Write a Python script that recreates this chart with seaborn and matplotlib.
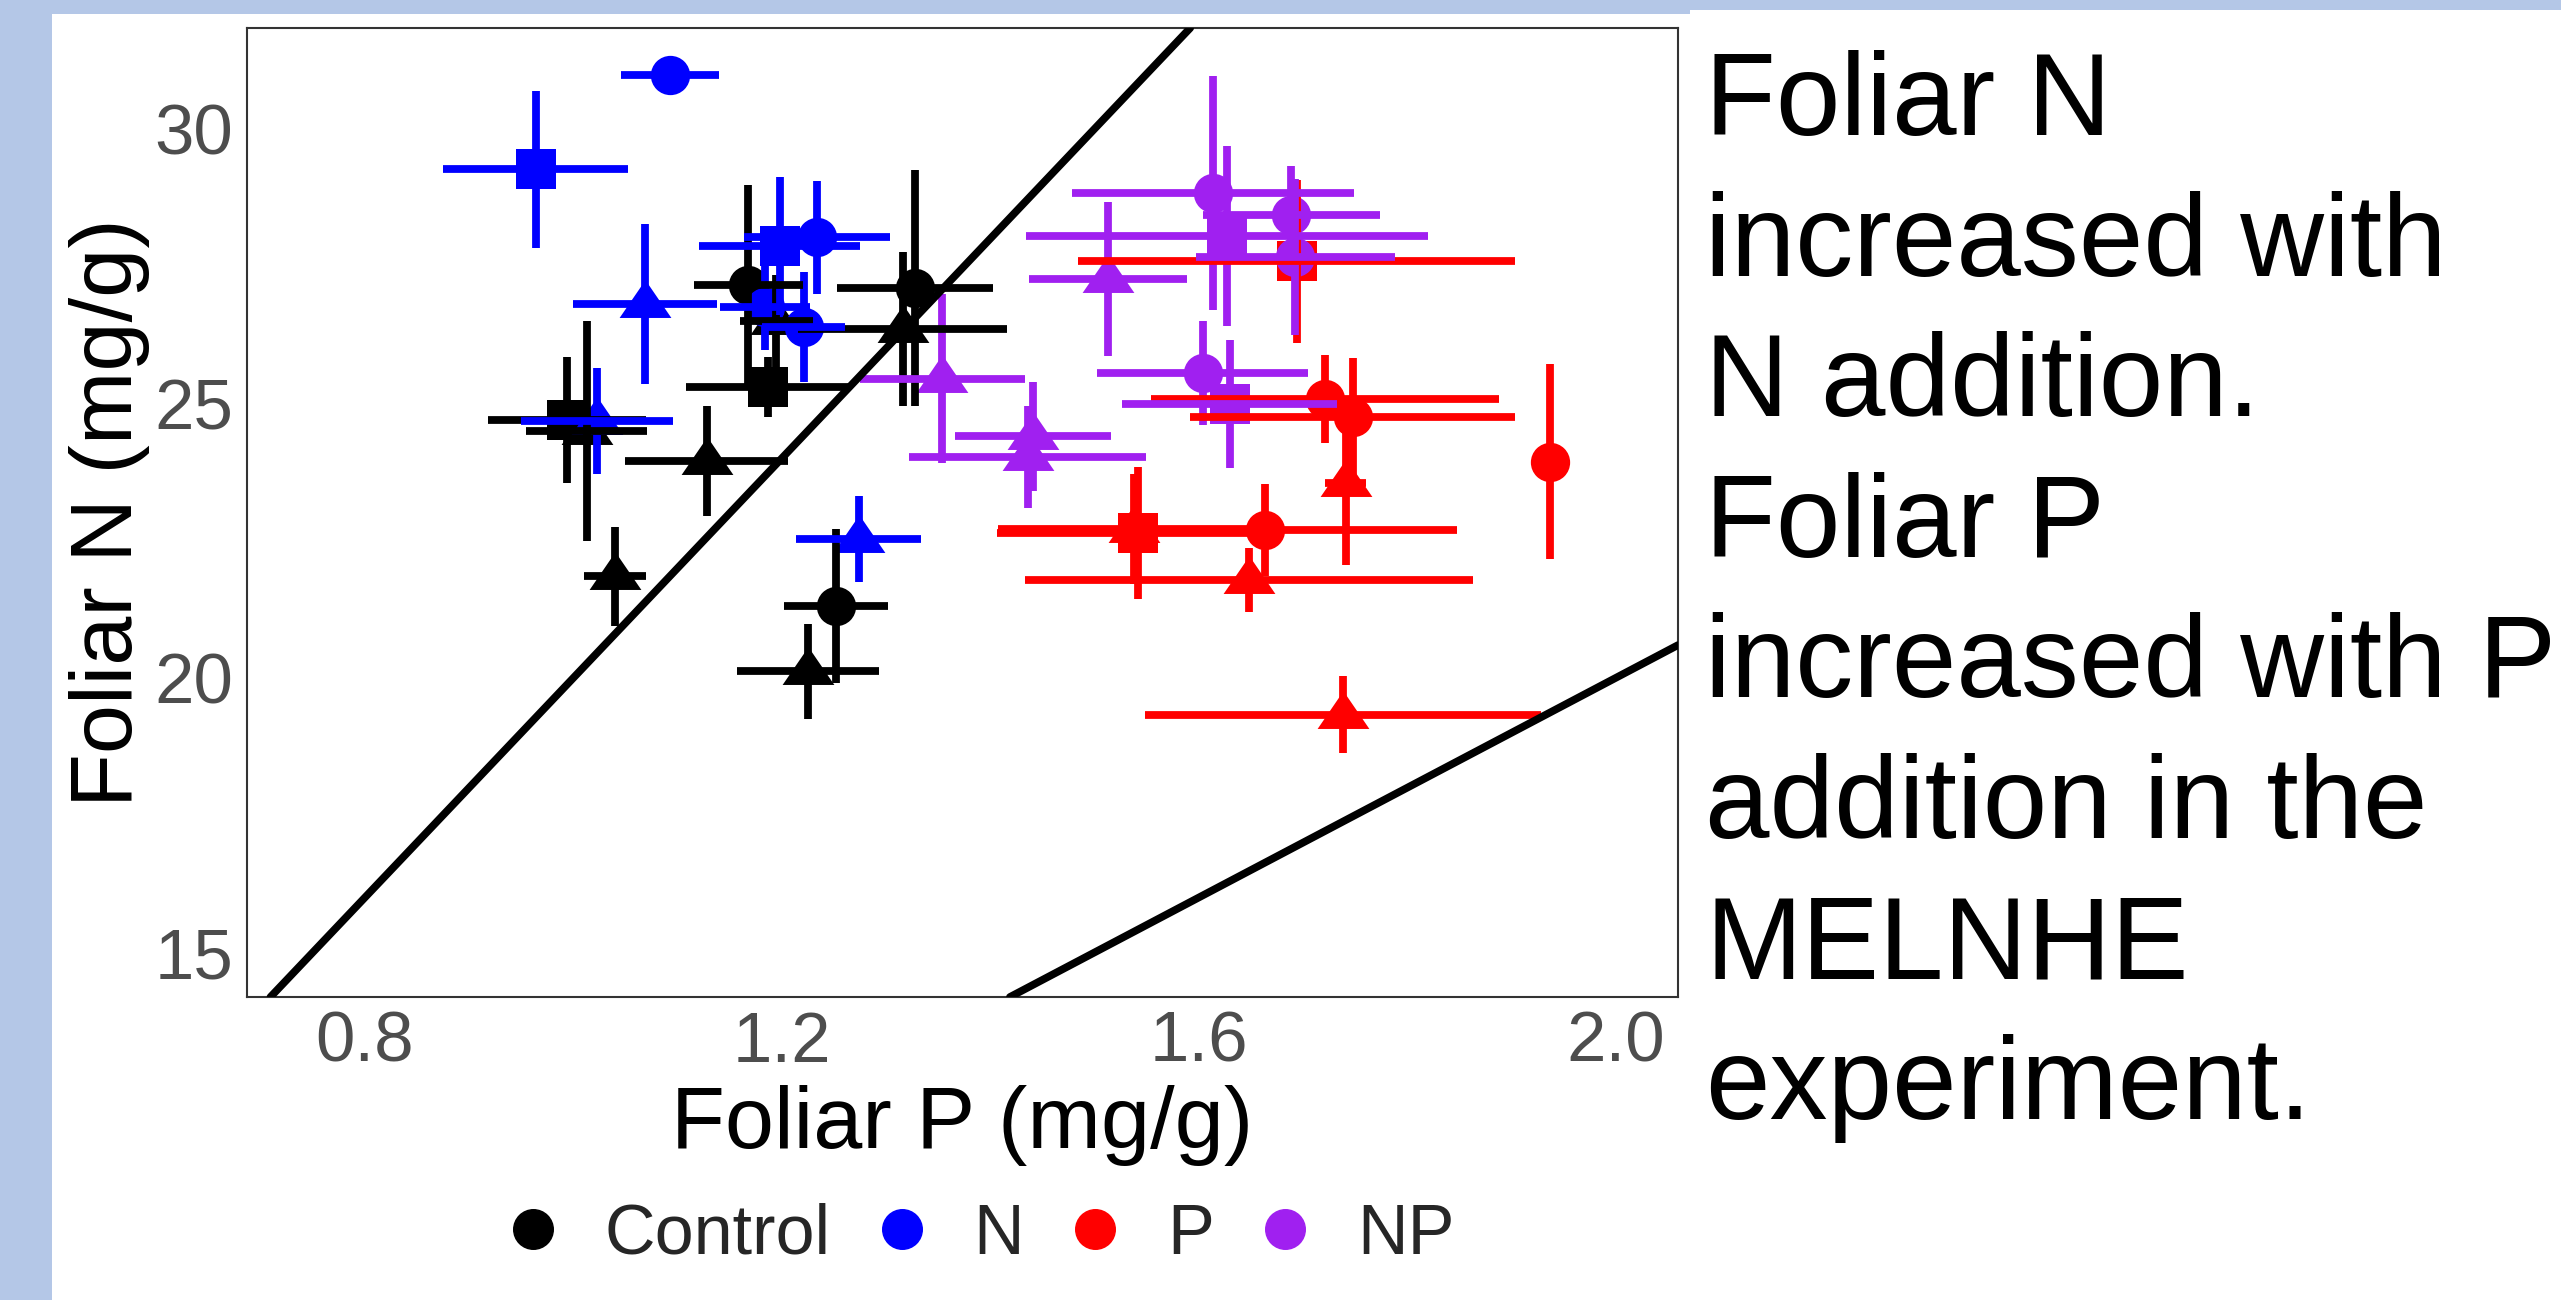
import matplotlib
matplotlib.use('Agg')
import matplotlib.pyplot as plt
from matplotlib.lines import Line2D
from matplotlib.path import Path
from matplotlib.patches import Rectangle
import seaborn as sns
import pandas as pd

sns.set_style('white')
plt.rcParams['font.family'] = ['Liberation Sans', 'DejaVu Sans']

treatments = ['Control', 'N', 'P', 'NP']
colors = {'Control': '#000000', 'N': '#0000FF', 'P': '#FF0000', 'NP': '#A020F0'}

# one row per stand: treatment, marker shape, foliar P / N means and their errors
trt = ['Control'] * 11 + ['N'] * 9 + ['P'] * 10 + ['NP'] * 10
shape = [
    # Control
    'circle', 'circle', 'circle', 'square', 'square',
    'triangle', 'triangle', 'triangle', 'triangle', 'triangle', 'triangle',
    # N
    'circle', 'square', 'triangle', 'square', 'circle', 'circle', 'circle', 'triangle', 'triangle',
    # P
    'square', 'circle', 'circle', 'circle', 'triangle', 'square', 'triangle', 'circle', 'triangle', 'triangle',
    # NP
    'circle', 'circle', 'circle', 'circle', 'square', 'square', 'triangle', 'triangle', 'triangle', 'triangle',
]
foliar_p = [
    1.168, 1.328, 1.252, 0.994, 1.187, 1.316, 1.013, 1.128, 1.040, 1.225, 1.195,
    1.093, 0.964, 1.069, 1.198, 1.234, 1.184, 1.221, 1.023, 1.274,
    1.694, 1.721, 1.748, 1.937, 1.741, 1.542, 1.538, 1.664, 1.648, 1.739,
    1.614, 1.689, 1.693, 1.604, 1.627, 1.630, 1.513, 1.354, 1.441, 1.436,
]
foliar_n = [
    27.16, 27.10, 21.31, 24.70, 25.30, 26.36, 24.50, 23.95, 21.85, 20.12, 26.50,
    30.98, 29.27, 26.81, 27.87, 28.03, 26.75, 26.39, 24.68, 22.53,
    27.59, 25.08, 24.76, 23.94, 23.55, 22.64, 22.72, 22.70, 21.79, 19.33,
    28.84, 28.43, 27.67, 25.56, 28.05, 24.99, 27.27, 25.45, 24.40, 24.02,
]
p_err = [
    0.052, 0.075, 0.050, 0.076, 0.079, 0.100, 0.058, 0.078, 0.030, 0.068, 0.035,
    0.047, 0.089, 0.069, 0.077, 0.070, 0.043, 0.040, 0.073, 0.060,
    0.210, 0.167, 0.156, 0.015, 0.020, 0.135, 0.130, 0.184, 0.215, 0.190,
    0.135, 0.085, 0.095, 0.101, 0.193, 0.103, 0.076, 0.079, 0.075, 0.114,
]
n_err = [
    1.82, 2.15, 1.40, 1.15, 0.54, 1.40, 2.00, 1.00, 0.90, 0.86, 0.85,
    0.10, 1.43, 1.46, 1.25, 1.03, 0.78, 1.00, 0.97, 0.78,
    1.48, 0.80, 1.07, 1.78, 1.50, 1.20, 1.00, 0.84, 0.58, 0.70,
    2.13, 0.90, 1.42, 0.95, 1.64, 1.16, 1.40, 1.54, 1.00, 0.93,
]

# N:P reference lines
np_ratios = [20, 10]

df = pd.DataFrame({'trt': trt, 'shape': shape, 'P': foliar_p, 'N': foliar_n,
                   'P_err': p_err, 'N_err': n_err})

tri = Path([(0, 0.94), (1, -0.52), (-1, -0.52), (0, 0.94)],
           [Path.MOVETO, Path.LINETO, Path.LINETO, Path.CLOSEPOLY])
markers = {'circle': 'o', 'square': 's', 'triangle': tri}
sizes = {'circle': 800, 'square': 790, 'triangle': 1390}

W, H = 2561, 1300
fig = plt.figure(figsize=(W / 100, H / 100), dpi=100)
fig.patch.set_facecolor('#B4C7E7')
fig.add_artist(Rectangle((52 / W, 0), 1, (H - 14) / H, transform=fig.transFigure,
                         facecolor='white', edgecolor='none', zorder=-10))
fig.add_artist(Rectangle((1690 / W, 0), 1, (H - 10) / H, transform=fig.transFigure,
                         facecolor='white', edgecolor='none', zorder=-10))

ax = fig.add_axes([247 / W, 1 - 997 / H, (1678 - 247) / W, (997 - 28) / H])
ax.set_facecolor('white')

# points
for t in treatments:
    for shp in ['circle', 'square', 'triangle']:
        sub = df[(df.trt == t) & (df['shape'] == shp)]
        if len(sub) == 0:
            continue
        sns.scatterplot(data=sub, x='P', y='N', color=colors[t], marker=markers[shp],
                        s=sizes[shp], linewidth=0, legend=False, ax=ax, zorder=3)

# error bars
for t in treatments:
    sub = df[df.trt == t]
    ax.errorbar(sub.P, sub.N, yerr=sub.N_err, fmt='none', ecolor=colors[t],
                elinewidth=5.6, capsize=0, zorder=4)
for t in treatments:
    sub = df[df.trt == t]
    ax.errorbar(sub.P, sub.N, xerr=sub.P_err, fmt='none', ecolor=colors[t],
                elinewidth=5.6, capsize=0, zorder=5)

for r in np_ratios:
    ax.axline((0, 0), slope=r, color='black', lw=5.5, zorder=6)

ax.set_xlim(0.687, 2.060)
ax.set_ylim(14.19, 31.84)
ax.set_xticks([0.8, 1.2, 1.6, 2.0])
ax.set_xticklabels(['0.8', '1.2', '1.6', '2.0'])
ax.set_yticks([15, 20, 25, 30])
for sp in ax.spines.values():
    sp.set_visible(True)
    sp.set_color('#333333')
    sp.set_linewidth(1.5)
ax.tick_params(direction='out', length=6, width=1.4, color='#333333',
               labelsize=51, labelcolor='#4D4D4D', pad=4)

ax.set_xlabel('Foliar P (mg/g)', fontsize=63.5, color='black')
ax.set_ylabel('Foliar N (mg/g)', fontsize=63.5, color='black')
ax.xaxis.set_label_coords(0.5, -0.091)
ax.yaxis.set_label_coords(-0.068, 0.5)

handles = [Line2D([], [], marker='o', linestyle='', color=colors[t], markersize=28.5)
           for t in treatments]
fig.legend(handles, treatments, loc='center', bbox_to_anchor=(983 / W, 1 - 1236 / H),
           ncol=4, frameon=False, fontsize=50.5, handlelength=0.6, handletextpad=0.72,
           columnspacing=0.72, borderpad=0, borderaxespad=0)

side_text = ['Foliar N', 'increased with', 'N addition.', 'Foliar P',
             'increased with P', 'addition in the', 'MELNHE', 'experiment.']
for i, line in enumerate(side_text):
    fig.text(1705 / W, 1 - (135 + i * 140.6) / H, line, fontsize=83.5,
             va='baseline', ha='left', color='black')

fig.savefig('out.png', dpi=100)
